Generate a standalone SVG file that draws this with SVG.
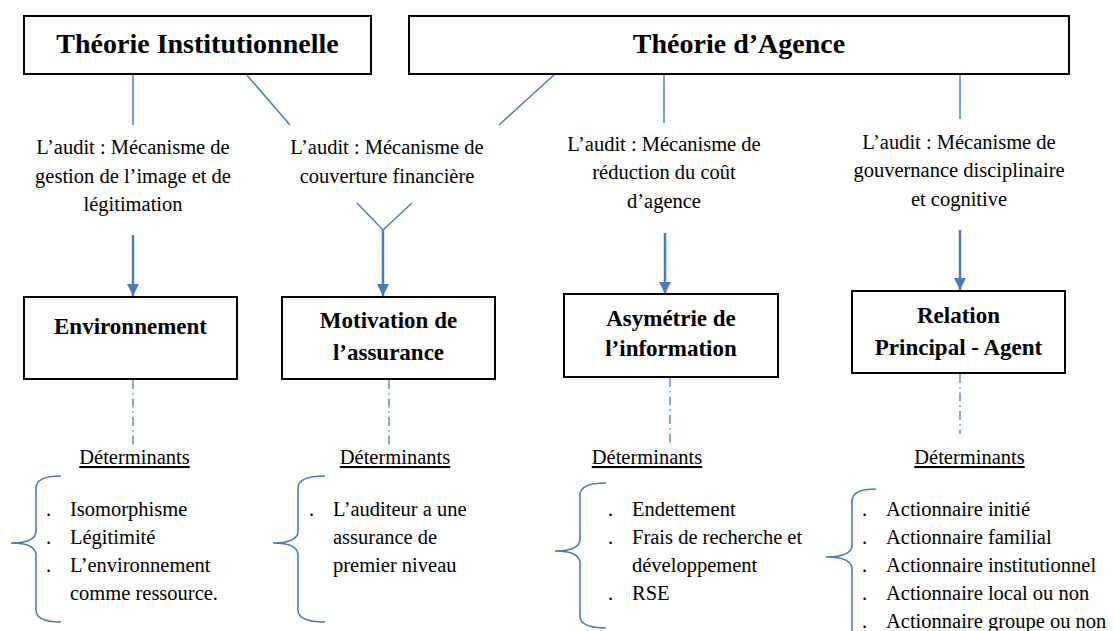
<svg xmlns="http://www.w3.org/2000/svg" width="1115" height="631" viewBox="0 0 1115 631">
<style>
.box{fill:#fff;stroke:#000;stroke-width:2}
.t{font-family:"Liberation Serif","Times New Roman",serif;font-size:20.5px;fill:#000}
.h{font-family:"Liberation Serif","Times New Roman",serif;font-size:28px;font-weight:bold;fill:#000}
.b{font-family:"Liberation Serif","Times New Roman",serif;font-size:23px;font-weight:bold;fill:#000}
.ln{stroke:#4A7EBB;stroke-width:1.5;fill:none}
.ar{stroke:#4A7EBB;stroke-width:2.5;fill:none}
.dd{stroke:#4A7EBB;stroke-width:1.3;fill:none;stroke-dasharray:9 4 1.5 4}
.br{stroke:#4A7EBB;stroke-width:1.6;fill:none}
</style>
<defs>
<marker id="ah" viewBox="0 0 10 10" refX="10" refY="5" markerWidth="5" markerHeight="5" orient="auto" markerUnits="strokeWidth">
<path d="M0,0 L10,5 L0,10 z" fill="#4A7EBB"/>
</marker>
</defs>
<rect width="1115" height="631" fill="#fff"/>

<g id="connectors">
<line class="ln" x1="133" y1="74" x2="133" y2="125"/>
<line class="ln" x1="246" y1="74" x2="290" y2="125"/>
<line class="ln" x1="555" y1="74" x2="499" y2="125"/>
<line class="ln" x1="664" y1="74" x2="664" y2="123"/>
<line class="ln" x1="960" y1="74" x2="960" y2="119"/>
<polyline class="ln" points="357,203 383,230 412,203"/>
<line class="ar" x1="133" y1="235" x2="133" y2="296" marker-end="url(#ah)"/>
<line class="ar" x1="383" y1="230" x2="383" y2="296" marker-end="url(#ah)"/>
<line class="ar" x1="665" y1="233" x2="665" y2="294" marker-end="url(#ah)"/>
<line class="ar" x1="960" y1="230" x2="960" y2="290" marker-end="url(#ah)"/>
<line class="dd" x1="133" y1="380" x2="133" y2="445"/>
<line class="dd" x1="389" y1="380" x2="389" y2="445"/>
<line class="dd" x1="670" y1="378" x2="670" y2="443"/>
<line class="dd" x1="960" y1="374" x2="960" y2="434"/>
<path class="br" d="M61,476 Q36,476 36,488 L36,531 Q36,543 11,543 Q36,543 36,555 L36,610 Q36,622 61,622"/>
<path class="br" d="M325,476 Q298,476 298,488 L298,531 Q298,543 273,543 Q298,543 298,555 L298,610 Q298,622 325,622"/>
<path class="br" d="M606,483 Q580,483 580,495 L580,539 Q580,551 555,551 Q580,551 580,563 L580,616 Q580,628 606,628"/>
<path class="br" d="M876,489 Q852,489 852,501 L852,545 Q852,557 826,557 Q852,557 852,569 L852,640"/>
</g>

<g id="theorie-institutionnelle">
<rect class="box" x="24" y="16" width="347" height="58"/>
<text class="h" x="197.5" y="53" text-anchor="middle">Théorie Institutionnelle</text>
</g>
<g id="theorie-agence">
<rect class="box" x="409" y="16" width="660" height="58"/>
<text class="h" x="739" y="53" text-anchor="middle">Théorie d’Agence</text>
</g>

<g id="label-image">
<text class="t" x="133" y="154" text-anchor="middle">L’audit : Mécanisme de</text>
<text class="t" x="133" y="183" text-anchor="middle">gestion de l’image et de</text>
<text class="t" x="133" y="211" text-anchor="middle">légitimation</text>
</g>
<g id="label-couverture">
<text class="t" x="387" y="154" text-anchor="middle">L’audit : Mécanisme de</text>
<text class="t" x="387" y="183" text-anchor="middle">couverture financière</text>
</g>
<g id="label-reduction">
<text class="t" x="664" y="151" text-anchor="middle">L’audit : Mécanisme de</text>
<text class="t" x="664" y="179" text-anchor="middle">réduction du coût</text>
<text class="t" x="664" y="208" text-anchor="middle">d’agence</text>
</g>
<g id="label-gouvernance">
<text class="t" x="959" y="149" text-anchor="middle">L’audit : Mécanisme de</text>
<text class="t" x="959" y="177" text-anchor="middle">gouvernance disciplinaire</text>
<text class="t" x="959" y="206" text-anchor="middle">et cognitive</text>
</g>

<g id="environnement">
<rect class="box" x="24" y="297" width="213" height="82"/>
<text class="b" x="130.5" y="334" text-anchor="middle">Environnement</text>
</g>
<g id="motivation">
<rect class="box" x="282" y="297" width="213" height="82"/>
<text class="b" x="388.5" y="328" text-anchor="middle">Motivation de</text>
<text class="b" x="388.5" y="360" text-anchor="middle">l’assurance</text>
</g>
<g id="asymetrie">
<rect class="box" x="564" y="294" width="214" height="83"/>
<text class="b" x="671" y="326" text-anchor="middle">Asymétrie de</text>
<text class="b" x="671" y="356" text-anchor="middle">l’information</text>
</g>
<g id="relation">
<rect class="box" x="852" y="291" width="213" height="82"/>
<text class="b" x="958.5" y="323" text-anchor="middle">Relation</text>
<text class="b" x="958.5" y="355" text-anchor="middle">Principal - Agent</text>
</g>

<g id="determinants-1">
<text class="t" x="134.5" y="464" text-anchor="middle" text-decoration="underline">Déterminants</text>
<text class="t" x="46" y="516">.</text><text class="t" x="70" y="516">Isomorphisme</text>
<text class="t" x="46" y="544">.</text><text class="t" x="70" y="544">Légitimité</text>
<text class="t" x="46" y="572">.</text><text class="t" x="70" y="572">L’environnement</text>
<text class="t" x="70" y="600">comme ressource.</text>
</g>
<g id="determinants-2">
<text class="t" x="395" y="464" text-anchor="middle" text-decoration="underline">Déterminants</text>
<text class="t" x="309" y="516">.</text><text class="t" x="333" y="516">L’auditeur a une</text>
<text class="t" x="333" y="544">assurance de</text>
<text class="t" x="333" y="572">premier niveau</text>
</g>
<g id="determinants-3">
<text class="t" x="647" y="464" text-anchor="middle" text-decoration="underline">Déterminants</text>
<text class="t" x="608" y="516">.</text><text class="t" x="632" y="516">Endettement</text>
<text class="t" x="608" y="544">.</text><text class="t" x="632" y="544">Frais de recherche et</text>
<text class="t" x="632" y="572">développement</text>
<text class="t" x="608" y="600">.</text><text class="t" x="632" y="600">RSE</text>
</g>
<g id="determinants-4">
<text class="t" x="969.5" y="464" text-anchor="middle" text-decoration="underline">Déterminants</text>
<text class="t" x="862" y="516">.</text><text class="t" x="886" y="516">Actionnaire initié</text>
<text class="t" x="862" y="544">.</text><text class="t" x="886" y="544">Actionnaire familial</text>
<text class="t" x="862" y="572">.</text><text class="t" x="886" y="572">Actionnaire institutionnel</text>
<text class="t" x="862" y="600">.</text><text class="t" x="886" y="600">Actionnaire local ou non</text>
<text class="t" x="862" y="628">.</text><text class="t" x="886" y="628">Actionnaire groupe ou non</text>
</g>
</svg>
